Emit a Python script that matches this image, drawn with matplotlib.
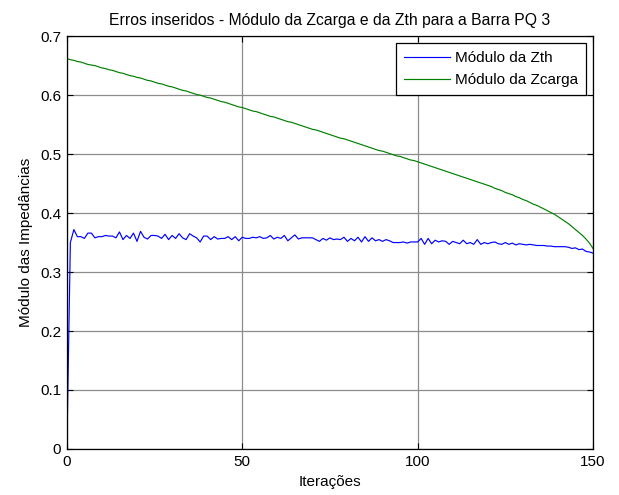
import numpy as np
import matplotlib
matplotlib.use('Agg')
import matplotlib.pyplot as plt

plt.rcParams['font.family'] = ['Liberation Sans', 'DejaVu Sans']

# Module of Zth (blue) per iteration
zth = [
    0.000, 0.350, 0.372, 0.360, 0.360, 0.357, 0.366, 0.366, 0.358, 0.360,
    0.360, 0.362, 0.361, 0.361, 0.358, 0.368, 0.355, 0.362, 0.357, 0.366,
    0.352, 0.369, 0.359, 0.356, 0.362, 0.362, 0.361, 0.357, 0.364, 0.355,
    0.362, 0.357, 0.365, 0.358, 0.355, 0.365, 0.361, 0.358, 0.351, 0.361,
    0.361, 0.355, 0.360, 0.356, 0.357, 0.357, 0.360, 0.355, 0.360, 0.353,
    0.359, 0.357, 0.357, 0.359, 0.358, 0.360, 0.357, 0.358, 0.362, 0.356,
    0.359, 0.357, 0.362, 0.353, 0.358, 0.363, 0.356, 0.358, 0.358, 0.358,
    0.358, 0.355, 0.352, 0.357, 0.354, 0.358, 0.355, 0.356, 0.355, 0.359,
    0.352, 0.357, 0.353, 0.359, 0.351, 0.360, 0.352, 0.358, 0.353, 0.355,
    0.352, 0.355, 0.353, 0.350, 0.350, 0.350, 0.351, 0.349, 0.351, 0.351,
    0.351, 0.357, 0.347, 0.357, 0.348, 0.354, 0.351, 0.353, 0.352, 0.347,
    0.352, 0.350, 0.348, 0.354, 0.348, 0.350, 0.347, 0.355, 0.347, 0.350,
    0.348, 0.350, 0.351, 0.348, 0.347, 0.350, 0.347, 0.349, 0.346, 0.348,
    0.347, 0.346, 0.347, 0.346, 0.345, 0.345, 0.345, 0.344, 0.344, 0.343,
    0.343, 0.343, 0.343, 0.342, 0.340, 0.341, 0.338, 0.339, 0.335, 0.334,
    0.332,
]

# Module of Zcarga (green) per iteration
zcarga = [
    0.662, 0.660, 0.659, 0.657, 0.656, 0.654, 0.652, 0.651, 0.650, 0.648,
    0.646, 0.645, 0.643, 0.642, 0.640, 0.638, 0.637, 0.635, 0.633, 0.632,
    0.630, 0.629, 0.627, 0.625, 0.624, 0.622, 0.620, 0.619, 0.617, 0.615,
    0.614, 0.612, 0.610, 0.608, 0.607, 0.605, 0.603, 0.601, 0.600, 0.598,
    0.596, 0.595, 0.593, 0.591, 0.589, 0.588, 0.586, 0.584, 0.582, 0.580,
    0.579, 0.577, 0.575, 0.573, 0.572, 0.570, 0.568, 0.566, 0.564, 0.563,
    0.561, 0.559, 0.557, 0.555, 0.554, 0.552, 0.550, 0.548, 0.546, 0.544,
    0.542, 0.541, 0.539, 0.537, 0.535, 0.533, 0.531, 0.529, 0.527, 0.526,
    0.524, 0.522, 0.520, 0.518, 0.516, 0.514, 0.512, 0.510, 0.508, 0.506,
    0.505, 0.503, 0.501, 0.499, 0.497, 0.496, 0.494, 0.492, 0.490, 0.489,
    0.487, 0.485, 0.483, 0.481, 0.479, 0.477, 0.475, 0.473, 0.471, 0.469,
    0.467, 0.465, 0.463, 0.461, 0.459, 0.457, 0.455, 0.453, 0.451, 0.449,
    0.447, 0.445, 0.442, 0.440, 0.438, 0.435, 0.433, 0.431, 0.428, 0.426,
    0.423, 0.421, 0.418, 0.415, 0.413, 0.410, 0.407, 0.404, 0.401, 0.398,
    0.394, 0.390, 0.386, 0.382, 0.377, 0.372, 0.367, 0.362, 0.356, 0.349,
    0.340,
]

iteracoes = np.arange(len(zth))
x_ticks = [0, 50, 100, 150]
y_ticks = [0, 0.1, 0.2, 0.3, 0.4, 0.5, 0.6, 0.7]
y_labels = ['0', '0.1', '0.2', '0.3', '0.4', '0.5', '0.6', '0.7']

fig = plt.figure(figsize=(6.19, 4.95), dpi=100)
ax = fig.add_axes([0.108, 0.093, 0.850, 0.834])

ax.plot(iteracoes, zth, color=(0, 0, 1), lw=0.85, label='Módulo da Zth')
ax.plot(iteracoes, zcarga, color=(0, 0.5, 0), lw=0.85, label='Módulo da Zcarga')

ax.set_xlim(0, 150)
ax.set_ylim(0, 0.7)
ax.set_xticks(x_ticks)
ax.set_yticks(y_ticks)
ax.set_yticklabels(y_labels)
ax.grid(True, color='#8c8c8c', lw=0.9)
ax.set_axisbelow(True)
ax.tick_params(direction='in', top=True, right=True, length=4, labelsize=11, pad=4)
for s in ax.spines.values():
    s.set_linewidth(0.9)

ax.set_title('Erros inseridos - Módulo da Zcarga e da Zth para a Barra PQ 3', fontsize=11.3, pad=8)
ax.set_xlabel('Iterações', fontsize=11, labelpad=5)
ax.set_ylabel('Módulo das Impedâncias', fontsize=11, labelpad=5)

leg = ax.legend(loc='upper right', fontsize=11, fancybox=False, framealpha=1,
                edgecolor='black', handlelength=3.0, handletextpad=0.3,
                labelspacing=0.5, borderpad=0.55, borderaxespad=0.45)
leg.get_frame().set_linewidth(0.9)

fig.savefig('out.png', dpi=100)
